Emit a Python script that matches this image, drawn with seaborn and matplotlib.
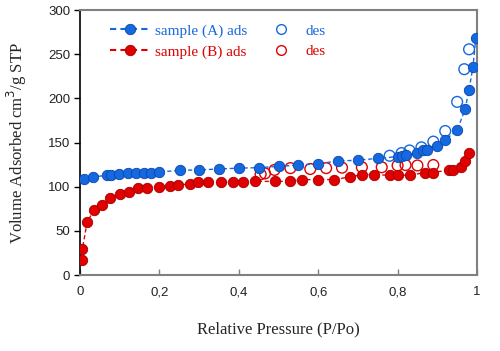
import numpy as np
import pandas as pd
import seaborn as sns
import matplotlib
matplotlib.use("Agg")
import matplotlib.pyplot as plt
from matplotlib.lines import Line2D

# ---- data ----
a_ads_x = [0.011, 0.034, 0.069, 0.078, 0.099, 0.12, 0.14, 0.16, 0.18, 0.20, 0.252, 0.30, 0.35, 0.40,
           0.45, 0.50, 0.55, 0.60, 0.65, 0.70, 0.75, 0.80, 0.81, 0.82, 0.85, 0.865, 0.873, 0.90,
           0.92, 0.95, 0.97, 0.98, 0.99, 0.997]
a_ads_y = [109, 111, 113, 113.5, 114, 115, 115, 115.5, 116, 116.6, 118.5, 119, 120, 121,
           121.5, 123, 124.5, 126, 129, 130, 132, 134, 135, 135.5, 138.5, 141, 141.5, 146,
           153, 164, 187.5, 210, 236, 268.5]
a_des_x = [0.98, 0.968, 0.95, 0.92, 0.89, 0.86, 0.83, 0.81, 0.78]
a_des_y = [255.5, 233, 196, 163, 151, 144.5, 141, 138, 135]

b_ads_x = [0.006, 0.006, 0.018, 0.036, 0.055, 0.076, 0.10, 0.123, 0.145, 0.17, 0.20, 0.226, 0.247,
           0.276, 0.298, 0.323, 0.354, 0.385, 0.41, 0.44, 0.49, 0.529, 0.56, 0.60, 0.64, 0.68,
           0.71, 0.74, 0.78, 0.80, 0.83, 0.87, 0.89, 0.93, 0.94, 0.96, 0.97, 0.98]
b_ads_y = [17, 29.5, 60, 74, 79, 87, 92, 94, 98, 99, 100, 101, 102,
           103, 105, 105, 105, 105, 105, 106, 106, 106, 108, 108, 108, 111,
           113.5, 113.5, 113, 113, 113, 116, 116, 119, 119, 122.5, 129, 138]
b_des_x = [0.89, 0.85, 0.82, 0.80, 0.76, 0.71, 0.66, 0.62, 0.58, 0.53, 0.49, 0.466, 0.455]
b_des_y = [124.5, 124, 124.5, 124, 122, 122, 121.5, 121, 120, 121, 119, 115, 114]

x_ticks = [0, 0.2, 0.4, 0.6, 0.8, 1]
x_tick_labels = ["0", "0,2", "0,4", "0,6", "0,8", "1"]
y_ticks = [0, 50, 100, 150, 200, 250, 300]

blue = "#1668e0"
blue_edge = "#0a47a8"
red = "#e00000"
red_edge = "#a00000"

sns.set_theme(style="white")
plt.rcParams['font.family'] = ['Liberation Sans', 'DejaVu Sans']

fig = plt.figure(figsize=(5.0, 3.51), dpi=100)
ax = fig.add_axes([0.16, 0.2165, 0.794, 0.755])

dfa = pd.DataFrame({"x": a_ads_x, "y": a_ads_y})
dfb = pd.DataFrame({"x": b_ads_x, "y": b_ads_y})

sns.lineplot(data=dfa, x="x", y="y", ax=ax, sort=False, estimator=None, color=blue,
             linestyle=(0, (3, 2)), linewidth=1.0, marker="o", markersize=7.5,
             markerfacecolor=blue, markeredgecolor=blue_edge, markeredgewidth=0.6, zorder=4)
sns.lineplot(data=dfb, x="x", y="y", ax=ax, sort=False, estimator=None, color=red,
             linestyle=(0, (3, 2)), linewidth=1.0, marker="o", markersize=7.5,
             markerfacecolor=red, markeredgecolor=red_edge, markeredgewidth=0.6, zorder=4)
sns.scatterplot(x=a_des_x, y=a_des_y, ax=ax, s=60, facecolors="none", edgecolor=blue,
                linewidth=1.0, zorder=3)
sns.scatterplot(x=b_des_x, y=b_des_y, ax=ax, s=60, facecolors="none", edgecolor=red,
                linewidth=1.0, zorder=3)

ax.set_xlim(0, 1)
ax.set_ylim(0, 300)
ax.set_xticks(x_ticks)
ax.set_xticklabels(x_tick_labels)
ax.set_yticks(y_ticks)

for s in ["top", "right", "bottom"]:
    ax.spines[s].set_color("#808080")
    ax.spines[s].set_linewidth(1.5)
ax.spines["left"].set_color("black")
ax.spines["left"].set_linewidth(1.2)

ax.tick_params(axis="x", direction="in", length=4, width=1, color="#808080",
               labelsize=9.5, pad=8, labelcolor="#222222", bottom=True)
ax.tick_params(axis="y", direction="out", length=4, width=1, color="black",
               labelsize=9.5, pad=3, labelcolor="#222222", left=True)

ax.set_xlabel("Relative Pressure (P/Po)", family="Liberation Serif", fontsize=12, labelpad=17)
ax.set_ylabel("Volume Adsorbed cm$^3$/g STP", family="Liberation Serif", fontsize=12, labelpad=14)

handles = [
    Line2D([], [], color=blue, linestyle=(0, (3, 2)), marker="o", markersize=7.5,
           markerfacecolor=blue, markeredgecolor=blue_edge, markeredgewidth=0.6),
    Line2D([], [], color=red, linestyle=(0, (3, 2)), marker="o", markersize=7.5,
           markerfacecolor=red, markeredgecolor=red_edge, markeredgewidth=0.6),
    Line2D([], [], linestyle="none", marker="o", markersize=7, markerfacecolor="none",
           markeredgecolor=blue),
    Line2D([], [], linestyle="none", marker="o", markersize=7, markerfacecolor="none",
           markeredgecolor=red),
]
labels = ["sample (A) ads", "sample (B) ads", "des", "des"]
leg = ax.legend(handles, labels, ncol=2, loc="upper left", bbox_to_anchor=(0.042, 0.999),
                frameon=False, prop={"family": "Liberation Serif", "size": 11},
                handlelength=2.6, handletextpad=0.3, columnspacing=0.9, labelspacing=0.45)
for t, c in zip(leg.get_texts(), [blue, red, blue, red]):
    t.set_color(c)

fig.savefig("out.png", dpi=100)
